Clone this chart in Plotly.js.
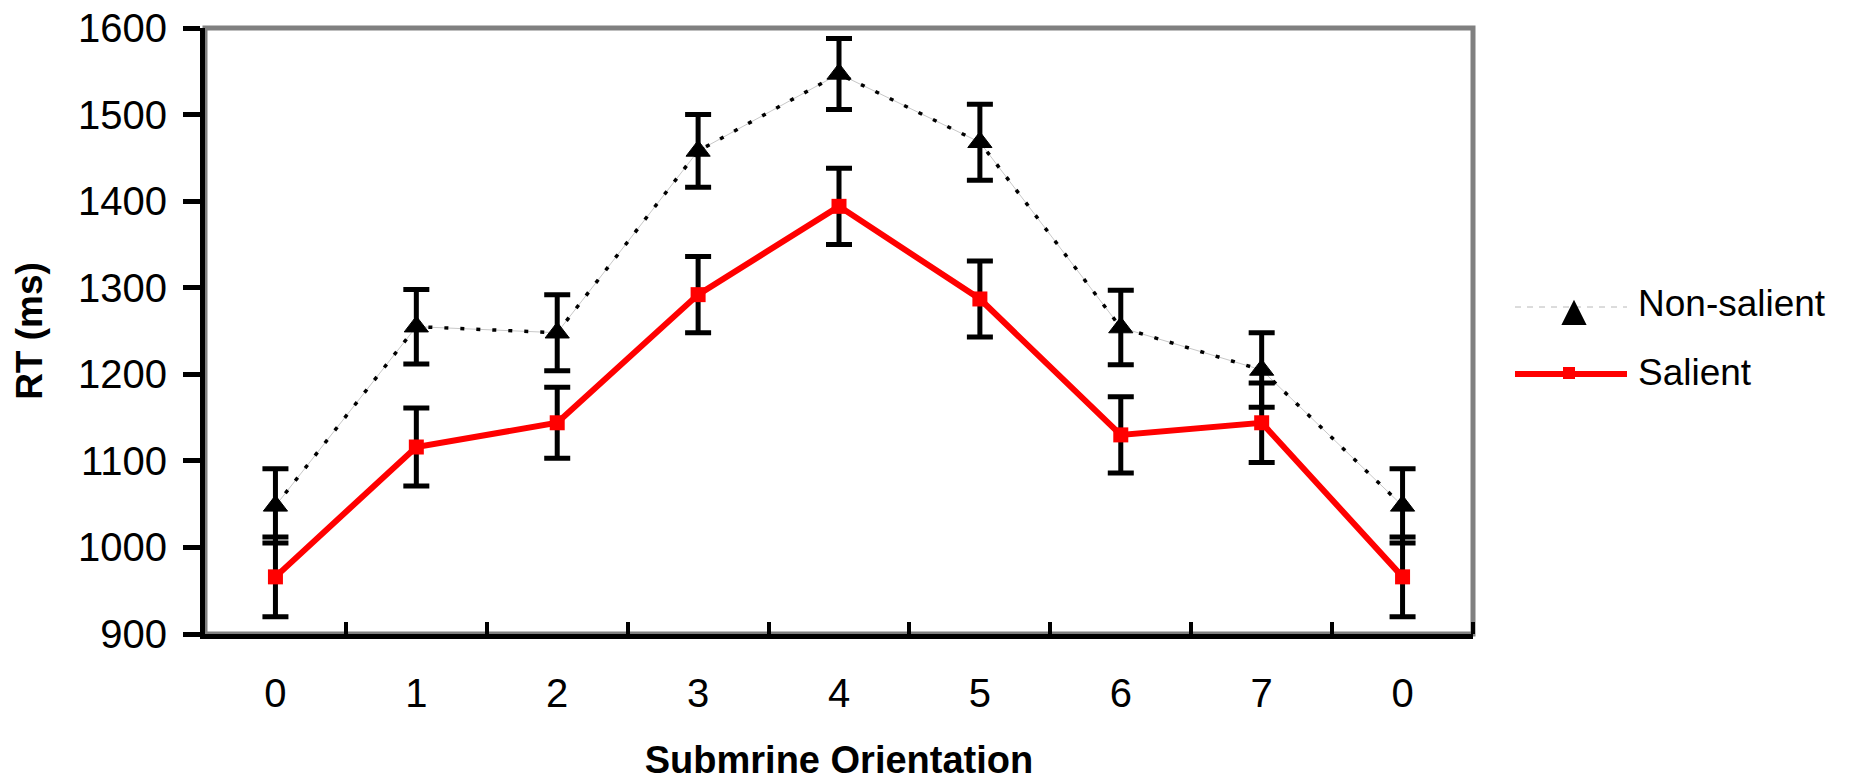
<!DOCTYPE html>
<html>
<head>
<meta charset="utf-8">
<script src="https://cdn.plot.ly/plotly-3.0.1.min.js"></script>
<style>
  html, body { margin: 0; padding: 0; background: #fff; }
  #chart { width: 1858px; height: 781px; }
</style>
</head>
<body>
<div id="chart"></div>
<script>
// ---- data ----
const categories = ['0', '1', '2', '3', '4', '5', '6', '7', '0'];
const nonSalient    = [1048, 1255, 1248, 1458, 1547, 1468, 1254, 1205, 1048];
const nonSalientErr = [43, 43, 44, 42, 41, 44, 43, 43, 43];
const salient       = [966, 1116, 1144, 1292, 1394, 1287, 1130, 1144, 966];
const salientErr    = [46, 45, 41, 44, 44, 44, 44, 46, 46];
const seriesNames = ['Non-salient', 'Salient'];
const yTicks = [900, 1000, 1100, 1200, 1300, 1400, 1500, 1600];

// ---- layout helpers ----
const FONT = 'Arial, "Liberation Sans", sans-serif';
const W = 1858, H = 781;
const M = { l: 205, r: 385, t: 28, b: 147 };
const PW = W - M.l - M.r, PH = H - M.t - M.b;
const px = X => (X - M.l) / PW;      // pixel -> paper x
const py = Y => (H - M.b - Y) / PH;  // pixel -> paper y

const xIdx = categories.map((_, i) => i);
const boundaries = categories.map((_, i) => i + 0.5);

const traces = [
  { // faint connector for the dotted series
    x: xIdx, y: nonSalient, type: 'scatter', mode: 'lines',
    line: { color: '#c8c8c8', width: 1 },
    hoverinfo: 'skip', showlegend: false
  },
  {
    x: xIdx, y: nonSalient, type: 'scatter', mode: 'lines+markers',
    name: seriesNames[0],
    line: { color: '#000', width: 3.5, dash: '4px,12px' },
    marker: { symbol: 'triangle-up', size: 21, color: '#000',
              line: { color: '#000', width: 1 } },
    error_y: { type: 'data', array: nonSalientErr, visible: true,
               color: '#000', thickness: 5, width: 13 },
    showlegend: false
  },
  {
    x: xIdx, y: salient, type: 'scatter', mode: 'lines+markers',
    name: seriesNames[1],
    line: { color: '#ff0000', width: 6 },
    marker: { symbol: 'square', size: 15, color: '#ff0000' },
    error_y: { type: 'data', array: salientErr, visible: true,
               color: '#000', thickness: 5, width: 13 },
    showlegend: false
  }
];

const shapes = [
  // gray frame (top/right visible; left/bottom covered by black axes)
  { type: 'rect', xref: 'paper', yref: 'paper', x0: 0, x1: 1, y0: 0, y1: 1,
    line: { color: '#808080', width: 5 }, layer: 'below' },
  // legend: non-salient
  { type: 'line', xref: 'paper', yref: 'paper',
    x0: px(1515), x1: px(1627), y0: py(307), y1: py(307),
    line: { color: '#b8b8b8', width: 1, dash: '6px,6px' } },
  { type: 'path', xref: 'paper', yref: 'paper',
    path: 'M ' + px(1563) + ' ' + py(324) + ' L ' + px(1585) + ' ' + py(324) +
          ' L ' + px(1574) + ' ' + py(302) + ' Z',
    fillcolor: '#000', line: { color: '#000', width: 2 } },
  // legend: salient
  { type: 'line', xref: 'paper', yref: 'paper',
    x0: px(1515), x1: px(1627), y0: py(374), y1: py(374),
    line: { color: '#ff0000', width: 6 } },
  { type: 'rect', xref: 'paper', yref: 'paper',
    x0: px(1563), x1: px(1575), y0: py(367), y1: py(379),
    fillcolor: '#ff0000', line: { color: '#ff0000', width: 0 } }
];

const annotations = [
  { text: seriesNames[0], xref: 'paper', yref: 'paper', x: px(1636), y: py(303),
    xanchor: 'left', yanchor: 'middle', showarrow: false,
    font: { family: FONT, size: 37, color: '#000' } },
  { text: seriesNames[1], xref: 'paper', yref: 'paper', x: px(1636), y: py(372),
    xanchor: 'left', yanchor: 'middle', showarrow: false,
    font: { family: FONT, size: 37, color: '#000' } }
];

const layout = {
  width: W, height: H,
  margin: M,
  paper_bgcolor: '#fff', plot_bgcolor: '#fff',
  showlegend: false,
  font: { family: FONT, size: 38, color: '#000' },
  xaxis: {
    range: [-0.5, categories.length - 0.5],
    tickmode: 'array', tickvals: xIdx, ticktext: categories,
    ticks: '', ticklabelstandoff: 20,
    minor: { tickmode: 'array', tickvals: boundaries, ticks: 'inside',
             ticklen: 12, tickwidth: 4, tickcolor: '#000', showgrid: false },
    showline: true, linecolor: '#000', linewidth: 5,
    showgrid: false, zeroline: false, fixedrange: true,
    tickfont: { family: FONT, size: 40, color: '#000' },
    title: { text: '<b>Submrine Orientation</b>', standoff: 44,
             font: { family: FONT, size: 38, color: '#000' } }
  },
  yaxis: {
    range: [900, 1600],
    tickmode: 'array', tickvals: yTicks,
    ticks: 'outside', ticklen: 17, tickwidth: 5, tickcolor: '#000',
    ticklabelstandoff: 8,
    showline: true, linecolor: '#000', linewidth: 5,
    showgrid: false, zeroline: false, fixedrange: true,
    tickfont: { family: FONT, size: 40, color: '#000' },
    title: { text: '<b>RT (ms)</b>', standoff: 26,
             font: { family: FONT, size: 37, color: '#000' } }
  },
  shapes: shapes,
  annotations: annotations
};

Plotly.newPlot('chart', traces, layout, { staticPlot: true, displayModeBar: false });
</script>
</body>
</html>
